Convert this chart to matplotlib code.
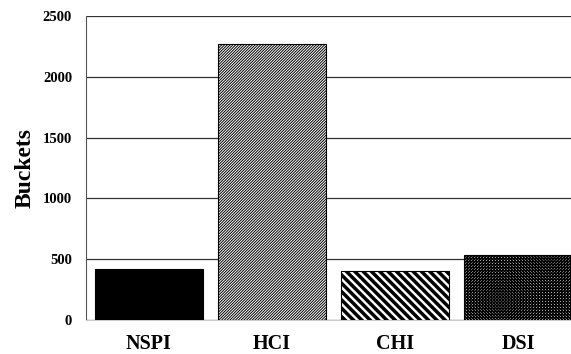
import matplotlib.pyplot as plt
import matplotlib as mpl

categories = ["NSPI", "HCI", "CHI", "DSI"]
buckets = [420, 2270, 405, 535]
hatches = [None, "/" * 12, "\\" * 4, "x" * 11]
hatch_widths = [0.8, 0.7, 2.5, 0.9]
fills = ["black", "white", "white", "white"]

plt.rcParams['font.family'] = ['Liberation Serif', 'DejaVu Serif']
plt.rcParams['font.weight'] = 'bold'

fig = plt.figure(figsize=(5.71, 3.54), dpi=100)
ax = fig.add_axes([86/571, 34/354, (571-86)/571, (320-16)/354])

x = range(len(categories))
for i in x:
    mpl.rcParams['hatch.linewidth'] = hatch_widths[i]
    ax.bar(i, buckets[i], width=0.88, color=fills[i], edgecolor='black',
           hatch=hatches[i], linewidth=0.8, zorder=3)

ax.set_ylim(0, 2500)
ax.set_yticks([0, 500, 1000, 1500, 2000, 2500])
ax.set_xlim(-0.51, 3.43)
ax.set_xticks(list(x))
ax.set_xticklabels(categories, fontsize=14.5, fontweight='bold')
ax.tick_params(axis='y', labelsize=10.5, length=0, pad=10)
ax.tick_params(axis='x', length=0, pad=10)
ax.yaxis.grid(True, color='#333333', linewidth=0.9, zorder=0)
ax.set_ylabel("Buckets", fontsize=17, fontweight='bold', labelpad=5)

for s in ['top', 'right']:
    ax.spines[s].set_visible(False)
ax.spines['left'].set_color('#555555')
ax.spines['bottom'].set_color('#cccccc')

fig.savefig("out.png", dpi=100)
